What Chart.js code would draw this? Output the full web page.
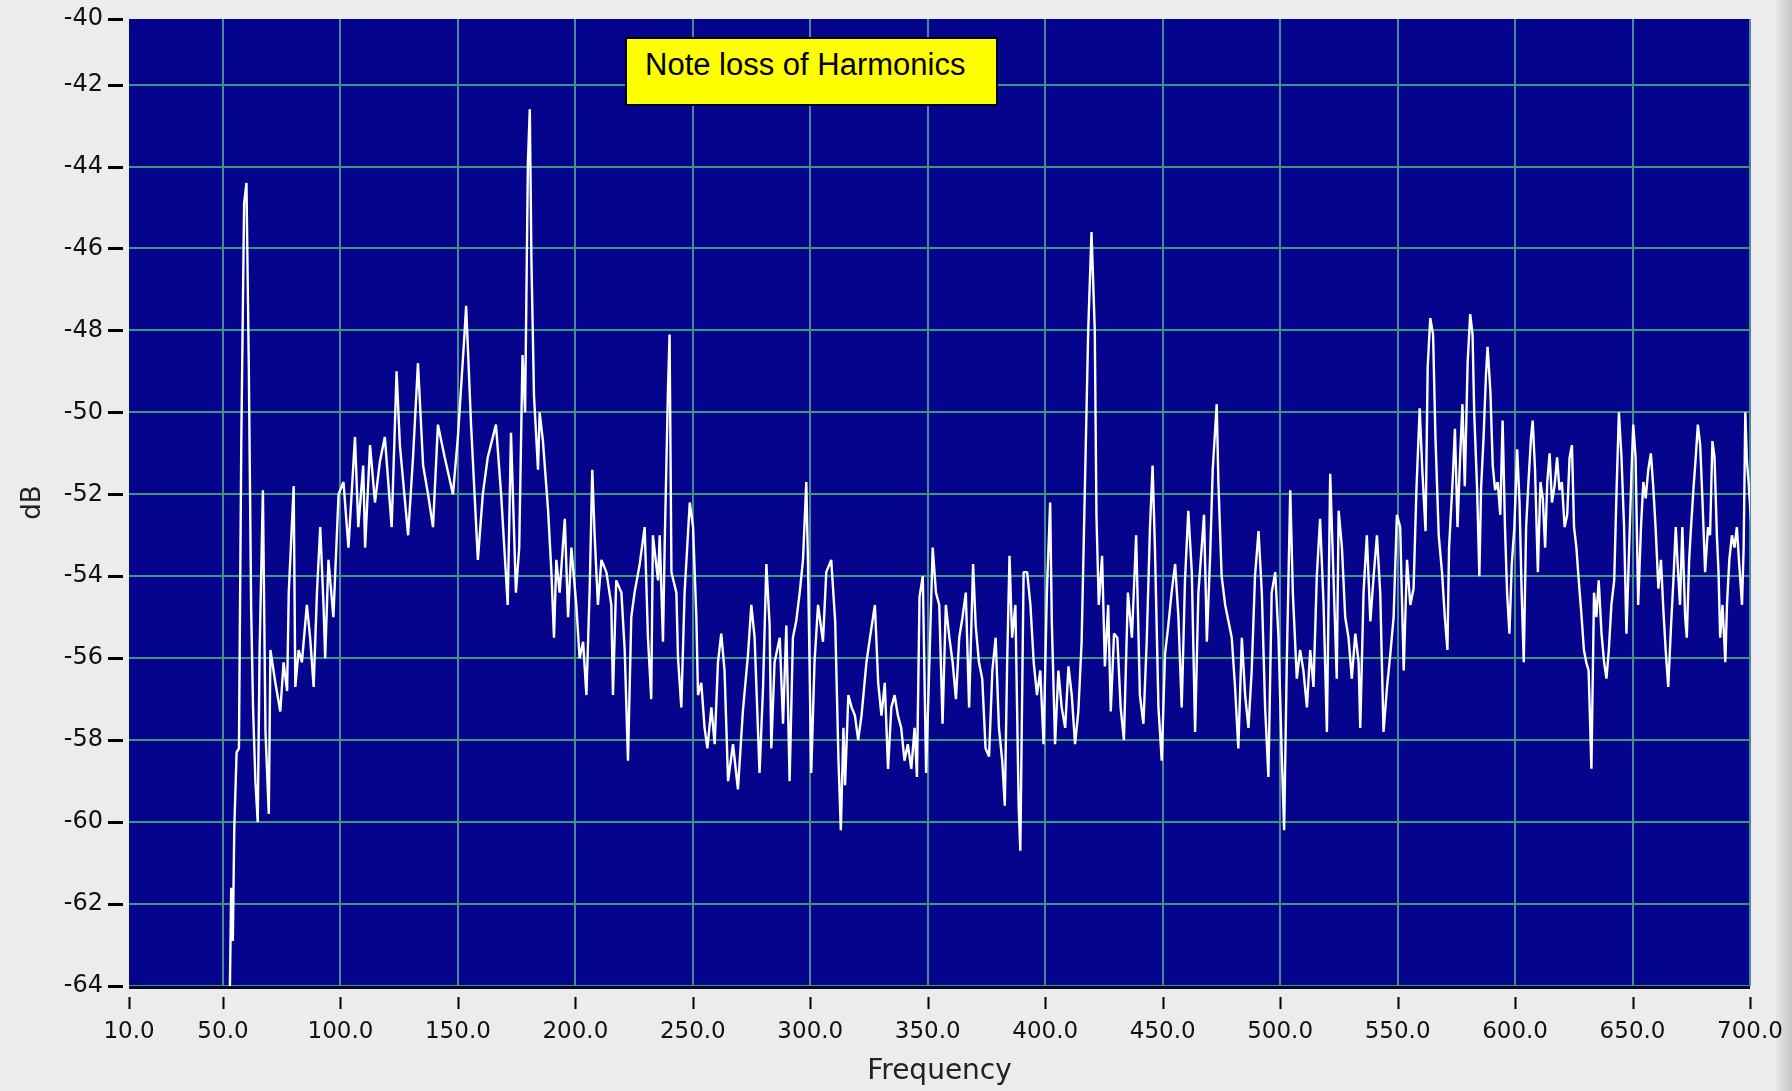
<!DOCTYPE html>
<html>
<head>
<meta charset="utf-8">
<script src="https://cdn.jsdelivr.net/npm/chart.js@4.4.1/dist/chart.umd.min.js"></script>
<style>
html,body{margin:0;padding:0;background:#ececec;overflow:hidden;}
#wrap{position:relative;width:1792px;height:1091px;}
#edge{position:absolute;right:0;top:0;width:16px;height:1091px;background:linear-gradient(to right,#e6e6e6,#c6c6c6);z-index:0;}
#c{position:absolute;left:0;top:0;z-index:1;}
#note{position:absolute;left:625px;top:37px;width:373px;height:69px;box-sizing:border-box;background:#ffff00;border:2px solid #000;z-index:2;
  font-family:"Liberation Sans",Arial,sans-serif;font-size:31px;line-height:31px;color:#000;}
#note span{position:absolute;left:18px;top:10px;white-space:nowrap;}
</style>
</head>
<body>
<div id="wrap">
  <div id="edge"></div>
  <canvas id="c" width="1792" height="1091"></canvas>
  <div id="note"><span id="noteText"></span></div>
</div>
<script>
// ---- data (frequency in Hz, level in dB) ----
const frequencies = [
52.5,53.5,54.2,54.8,55.8,56.8,57.8,59.0,60.0,61.0,
62.0,62.8,63.8,64.8,65.6,67.0,68.1,69.5,70.2,72.3,
74.4,75.8,77.3,78.0,80.1,80.8,82.2,83.6,85.7,87.1,
88.6,90.0,91.4,92.8,93.5,94.9,97.0,99.2,101.3,103.4,
106.2,107.6,109.7,110.5,112.6,114.7,116.8,118.9,121.8,123.9,
125.3,128.8,130.9,133.0,135.2,137.3,139.4,141.5,144.4,147.9,
150.0,152.8,153.5,155.6,158.5,160.6,162.7,166.2,168.4,171.2,
172.6,174.7,176.1,177.5,178.6,179.8,180.6,181.3,182.4,184.1,
184.8,186.2,188.4,189.8,190.9,191.9,193.3,195.5,196.9,198.3,
200.4,201.8,203.3,204.7,206.1,207.2,208.2,209.6,211.1,213.2,
215.3,216.0,217.4,219.6,221.0,222.4,223.8,225.2,227.4,229.5,
230.9,232.3,233.0,235.2,235.9,237.3,238.0,239.4,240.1,240.9,
243.0,243.7,245.1,246.5,247.9,248.7,250.1,251.5,252.2,253.6,
255.0,256.2,257.9,259.3,260.7,262.1,263.5,265.0,267.1,269.2,
271.3,273.5,274.9,276.3,278.4,279.9,281.3,282.7,283.4,284.8,
287.0,288.4,289.8,291.2,292.6,294.0,295.5,296.9,298.3,299.0,
300.4,301.8,303.3,305.4,306.8,308.9,310.6,312.0,313.0,314.1,
314.8,316.2,317.6,319.0,320.4,321.8,323.9,325.4,327.5,328.9,
330.3,331.7,333.1,334.5,335.9,337.3,338.7,340.1,341.5,343.0,
344.4,345.4,346.5,347.9,349.3,350.7,352.1,353.5,354.9,356.3,
357.7,359.2,360.6,362.0,363.4,364.8,366.2,367.6,369.3,370.4,
371.8,373.2,374.6,376.1,377.5,378.9,380.3,381.7,382.8,383.8,
384.8,385.9,387.3,388.7,389.4,390.8,392.3,393.7,395.1,396.5,
397.9,399.3,400.7,402.1,402.8,404.2,405.6,407.0,408.5,409.9,
411.3,412.7,414.1,415.5,416.9,418.3,419.7,421.1,421.8,422.8,
424.2,425.4,426.8,427.9,429.3,430.7,432.1,433.5,435.2,436.9,
438.7,440.3,441.8,443.2,444.6,445.7,446.7,448.2,449.6,451.0,
452.4,453.8,455.3,456.7,458.1,459.5,460.9,462.4,463.8,465.2,
466.6,467.6,468.8,470.2,471.3,473.0,473.7,475.1,476.6,478.0,
479.4,480.8,482.2,483.7,485.1,486.5,487.9,489.3,490.8,492.2,
493.6,495.0,496.4,497.9,499.3,500.7,501.7,502.8,504.3,505.4,
507.1,508.5,509.9,511.4,512.8,514.2,515.6,517.0,518.5,519.9,
521.3,522.7,524.1,524.9,526.3,527.7,529.1,530.5,532.0,533.4,
534.1,535.5,536.9,538.4,539.8,541.2,542.6,544.0,545.5,546.9,
548.3,549.7,551.1,552.6,554.0,555.4,556.8,558.0,559.4,560.5,
561.9,562.8,563.9,565.1,566.1,567.5,568.9,570.1,571.2,571.9,
573.4,574.4,575.5,576.6,577.6,578.6,579.8,580.9,581.9,582.6,
583.8,584.8,585.5,586.6,587.6,588.3,589.5,590.5,591.5,592.6,
593.7,594.7,595.7,596.6,597.6,598.6,599.7,600.9,601.9,602.8,
603.7,604.7,605.7,606.8,607.5,608.5,609.7,610.8,611.8,612.8,
613.7,614.7,615.7,616.8,617.9,618.9,619.9,621.1,622.2,623.2,
624.2,625.1,626.1,627.1,628.2,629.3,630.3,631.3,632.5,633.6,
634.6,635.6,636.8,637.9,638.9,639.9,641.0,642.2,643.2,644.2,
645.3,646.4,647.4,648.4,649.6,650.3,651.3,652.4,653.6,654.6,
655.6,656.7,657.8,658.8,659.8,661.0,662.1,663.1,664.1,665.2,
666.4,667.4,668.4,669.2,670.2,671.2,672.4,673.1,674.1,674.9,
675.9,676.9,677.8,678.8,679.8,680.9,682.1,683.0,684.0,684.9,
685.9,686.6,687.3,688.3,689.5,690.2,691.2,692.3,693.4,694.4,
695.4,696.6,697.3,698.0,698.7,699.4,700.6
];
const levelsDb = [
-66,-61.6,-62.9,-60.2,-58.3,-58.2,-50.7,-44.9,-44.4,-48.9,
-54.8,-57.2,-59.0,-60.0,-55.8,-51.9,-57.8,-59.8,-55.8,-56.6,
-57.3,-56.1,-56.8,-54.4,-51.8,-56.7,-55.8,-56.1,-54.7,-55.5,
-56.7,-54.4,-52.8,-54.7,-56.0,-53.6,-55.0,-52.0,-51.7,-53.3,
-50.6,-52.8,-51.3,-53.3,-50.8,-52.2,-51.2,-50.6,-52.8,-49.0,
-50.8,-53.0,-51.1,-48.8,-51.3,-52.0,-52.8,-50.3,-51.1,-52.0,
-50.6,-48.1,-47.4,-50.3,-53.6,-52.0,-51.1,-50.3,-52.0,-54.7,
-50.5,-54.4,-53.3,-48.6,-50.0,-43.9,-42.6,-46.3,-49.6,-51.4,
-50.0,-50.7,-52.4,-53.9,-55.5,-53.6,-54.4,-52.6,-55.0,-53.3,
-54.7,-56.0,-55.6,-56.9,-54.3,-51.4,-53.0,-54.7,-53.6,-53.9,
-54.7,-56.9,-54.1,-54.4,-55.8,-58.5,-55.0,-54.4,-53.7,-52.8,
-55.5,-57.0,-53.0,-54.1,-53.0,-55.6,-53.3,-49.5,-48.1,-53.9,
-54.4,-56.0,-57.2,-54.4,-53.0,-52.2,-52.8,-55.0,-56.9,-56.6,
-57.7,-58.2,-57.2,-58.1,-56.1,-55.4,-56.3,-59.0,-58.1,-59.2,
-57.3,-55.9,-54.7,-55.5,-58.8,-56.7,-53.7,-55.2,-58.2,-56.1,
-55.5,-57.6,-55.2,-59.0,-55.5,-55.1,-54.4,-53.6,-51.7,-53.6,
-58.8,-56.1,-54.7,-55.6,-53.9,-53.6,-55.1,-58.5,-60.2,-57.7,
-59.1,-56.9,-57.2,-57.4,-58.0,-57.4,-56.1,-55.5,-54.7,-56.6,
-57.4,-56.6,-58.7,-57.2,-56.9,-57.4,-57.7,-58.5,-58.1,-58.7,
-57.7,-58.9,-54.5,-54.0,-58.8,-56.1,-53.3,-54.4,-54.7,-57.6,
-54.7,-55.5,-56.1,-57.0,-55.5,-55.0,-54.4,-57.2,-53.7,-55.2,
-56.1,-56.5,-58.2,-58.4,-56.3,-55.5,-57.7,-58.5,-59.6,-56.1,
-53.5,-55.5,-54.7,-59.6,-60.7,-53.9,-53.9,-54.7,-56.1,-56.9,
-56.3,-58.1,-54.4,-52.2,-55.1,-58.1,-56.3,-57.2,-57.7,-56.2,
-56.9,-58.1,-57.3,-55.6,-51.8,-48.0,-45.6,-48.0,-52.5,-54.7,
-53.5,-56.2,-54.7,-57.3,-55.4,-55.5,-57.2,-58.0,-54.4,-55.5,
-53.0,-56.9,-57.6,-55.6,-52.8,-51.3,-53.3,-57.2,-58.5,-55.9,
-55.2,-54.4,-53.7,-55.0,-57.2,-54.1,-52.4,-53.9,-57.8,-54.4,
-53.3,-52.5,-55.6,-53.5,-51.4,-49.8,-51.7,-54.0,-54.7,-55.1,
-55.5,-56.7,-58.2,-55.5,-56.9,-57.7,-56.3,-54.0,-52.9,-54.4,
-57.2,-58.9,-54.4,-53.9,-55.5,-58.4,-60.2,-56.2,-51.9,-54.4,
-56.5,-55.8,-56.3,-57.2,-55.8,-56.7,-54.0,-52.6,-54.7,-57.8,
-51.5,-54.0,-56.5,-52.4,-53.3,-55.0,-55.5,-56.5,-55.4,-56.1,
-57.7,-54.4,-53.0,-55.1,-54.0,-53.0,-54.4,-57.8,-56.7,-55.9,
-55.0,-52.5,-52.8,-56.3,-53.6,-54.7,-54.3,-51.9,-49.9,-51.4,
-52.9,-48.9,-47.7,-48.1,-50.6,-53.0,-53.9,-55.0,-55.8,-53.3,
-51.7,-50.4,-52.8,-51.1,-49.8,-51.8,-48.8,-47.6,-48.1,-50.0,
-51.8,-54.0,-51.9,-50.6,-49.1,-48.4,-49.5,-51.3,-51.9,-51.7,
-52.5,-50.2,-52.8,-54.4,-55.4,-53.7,-52.8,-50.9,-52.2,-54.4,
-56.1,-52.8,-51.7,-50.6,-50.2,-51.4,-53.9,-51.7,-52.1,-53.3,
-51.7,-51.0,-52.2,-51.8,-51.1,-51.9,-51.7,-52.8,-52.5,-51.1,
-50.8,-52.8,-53.3,-54.1,-54.9,-55.8,-56.1,-56.3,-58.7,-54.4,
-55.0,-54.1,-55.4,-56.1,-56.5,-55.8,-54.7,-54.1,-51.9,-50.0,
-51.1,-52.8,-55.4,-53.6,-51.4,-50.3,-51.1,-54.7,-52.8,-51.7,
-52.1,-51.4,-51.0,-51.8,-52.8,-54.3,-53.6,-54.8,-55.8,-56.7,
-55.2,-54.1,-52.8,-53.7,-54.7,-52.8,-55.0,-55.5,-53.6,-52.8,
-51.9,-51.1,-50.3,-50.8,-52.2,-53.9,-52.8,-53.0,-50.7,-51.1,
-53.0,-53.9,-55.5,-54.7,-56.1,-54.7,-53.6,-53.0,-53.3,-52.8,
-53.7,-54.7,-53.3,-50.0,-51.2,-51.7,-52.8
];
const xTickValues = [10,50,100,150,200,250,300,350,400,450,500,550,600,650,700];
const yTickValues = [-64,-62,-60,-58,-56,-54,-52,-50,-48,-46,-44,-42,-40.4];
const xMin = 10, xMax = 700, yMin = -64, yMax = -40.4;
const xAxisTitle = 'Frequency';
const yAxisTitle = 'dB';
const noteText = 'Note loss of Harmonics';

// ---- styles ----
const PLOT_BG = 'rgb(4,4,140)';
const GRID_H = 'rgb(58,152,122)';
const GRID_V = 'rgb(72,138,152)';
const FONT = '"DejaVu Sans", Verdana, sans-serif';
const CLEAR = 'rgba(0,0,0,0)';

document.getElementById('noteText').textContent = noteText;

const points = frequencies.map((f, i) => ({ x: f, y: levelsDb[i] }));

const plotDecor = {
  id: 'plotDecor',
  beforeDraw(chart) {
    const { ctx, chartArea: a } = chart;
    ctx.save();
    ctx.fillStyle = PLOT_BG;
    ctx.fillRect(a.left, a.top, a.right - a.left, a.bottom - a.top);
    ctx.restore();
  },
  afterDraw(chart) {
    const { ctx, chartArea: a, scales } = chart;
    ctx.save();
    ctx.fillStyle = '#07072e';
    ctx.fillRect(a.left, a.bottom, a.right - a.left, 3);
    ctx.strokeStyle = '#000';
    ctx.lineWidth = 2;
    scales.x.ticks.forEach(t => {
      const px = Math.round(scales.x.getPixelForValue(t.value)) + 0.5;
      ctx.beginPath(); ctx.moveTo(px, a.bottom + 11); ctx.lineTo(px, a.bottom + 23); ctx.stroke();
    });
    ctx.lineWidth = 3;
    scales.y.ticks.forEach(t => {
      const py = Math.round(scales.y.getPixelForValue(t.value)) + 0.5;
      ctx.beginPath(); ctx.moveTo(a.left - 21, py); ctx.lineTo(a.left - 6, py); ctx.stroke();
    });
    ctx.restore();
  }
};

new Chart(document.getElementById('c'), {
  type: 'line',
  data: {
    datasets: [{
      data: points,
      borderColor: '#ffffff',
      borderWidth: 2.4,
      borderJoinStyle: 'bevel',
      pointRadius: 0,
      tension: 0,
      fill: false
    }]
  },
  plugins: [plotDecor],
  options: {
    responsive: false,
    animation: false,
    devicePixelRatio: 1,
    layout: { padding: { top: 19, right: 42, left: 0, bottom: 0 } },
    plugins: { legend: { display: false }, tooltip: { enabled: false } },
    scales: {
      x: {
        type: 'linear', min: xMin, max: xMax,
        afterBuildTicks: s => { s.ticks = xTickValues.map(v => ({ value: v })); },
        afterFit: s => { s.height = 105; },
        grid: { color: GRID_V, lineWidth: c => (c.tick && c.tick.value === xMin ? 0 : 2),
                drawTicks: true, tickLength: 32, tickColor: CLEAR },
        border: { display: false },
        ticks: { padding: 0, color: '#111', font: { family: FONT, size: 23 }, maxRotation: 0, autoSkip: false,
                 callback: v => Number(v).toFixed(1) },
        title: { display: true, text: xAxisTitle, color: '#222', font: { family: FONT, size: 28 }, padding: { top: 0, bottom: 2 } }
      },
      y: {
        type: 'linear', min: yMin, max: yMax,
        afterBuildTicks: s => { s.ticks = yTickValues.map(v => ({ value: v })); },
        afterFit: s => { s.width = 129; },
        grid: { color: GRID_H, lineWidth: c => (c.tick && c.tick.value === yMax ? 0 : 2),
                drawTicks: true, tickLength: 26, tickColor: CLEAR },
        border: { display: false },
        ticks: { padding: 0, color: '#111', font: { family: FONT, size: 24 }, autoSkip: false,
                 callback: v => String(Math.round(v)) },
        title: { display: true, text: yAxisTitle, color: '#222', font: { family: FONT, size: 26 }, padding: { top: 18, bottom: 0 } }
      }
    }
  }
});
</script>
</body>
</html>
